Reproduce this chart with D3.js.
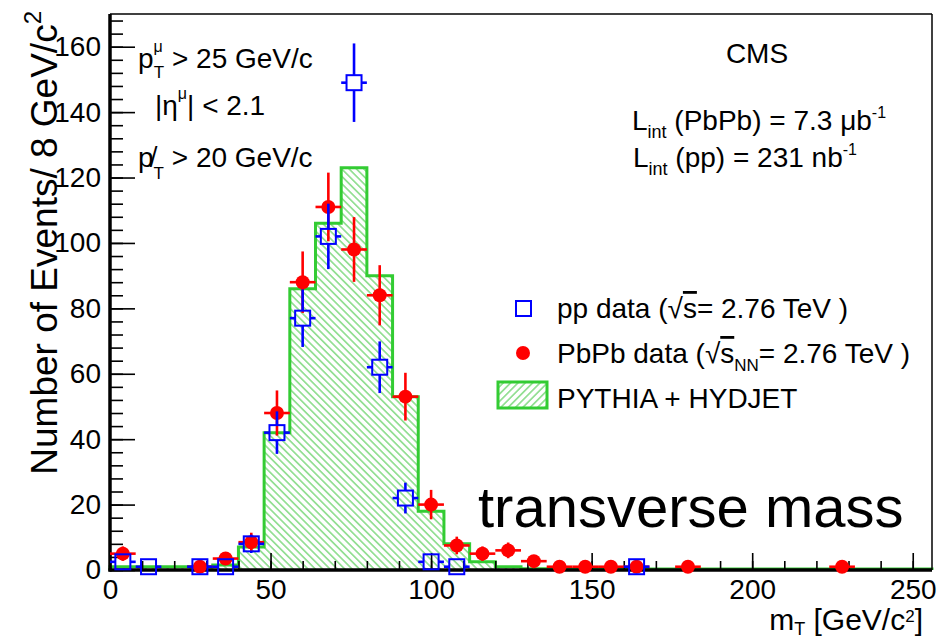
<!DOCTYPE html>
<html><head><meta charset="utf-8">
<script src="https://cdn.jsdelivr.net/npm/d3@7"></script>
<style>
body{margin:0;background:#fff}
svg{display:block}
text{font-family:"Liberation Sans",Arial,Helvetica,sans-serif;fill:#000}
</style>
</head><body>
<svg id="chart" width="937" height="641"></svg>
<script>
// ---------------- data ----------------
const binEdges = [0,8,16,24,32,40,48,56,64,72,80,88,96,104,112,120,128,136,144,152,160,168,176,184,192,200,208,216,224,232,240,248,256];
const mcCounts = [1,1,1,1,1.5,7,42,86,106,123,90,53,18,8,2.5,1,0.4,0.3,0.3,0.3,0.3,0.3,0.3,0.3,0.3,0.3,0.3,0.3,0.3,0.3,0.3,0.3];

const ppX   = [4,12,28,36,44,52,60,68,76,84,92,100,108,164];
const ppY   = [2.5,1,1,1,8,42,77,102,149,62,22,2.5,1,1];
const ppErr = [1.6,1,1,1,2.8,6.5,8.8,10,12,7.9,4.7,1.6,1,1];

const pbX   = [4,28,36,44,52,60,68,76,84,92,100,108,116,124,132,140,148,156,164,180,228];
const pbY   = [5,1,3.5,8.5,48,88,111,98,84,53,20,7.5,5,6,2.7,1,1,1,1,1,1];
const pbErr = [2.2,1,1.9,2.9,6.9,9.4,10.5,9.9,9.2,7.3,4.5,2.7,2.2,2.4,1.6,1,1,1,1,1,1];

const xMajorTicks = [0,50,100,150,200,250];
const xMinorTicks = d3.range(0,256,10);
const yMajorTicks = [0,20,40,60,80,100,120,140,160];
const yMinorTicks = d3.range(0,170,4);
const binHalfWidth = 4;

// ---------------- layout ----------------
const svg = d3.select("#chart");
const L = 110, R = 932, T = 14, B = 570;
const x = d3.scaleLinear().domain([0,256]).range([L,R]);
const y = d3.scaleLinear().domain([0,170]).range([B,T]);

const GREEN = "#33cc33", HATCH = "#55cc55", BLUE = "#0000ff", RED = "#ff0000";
const FS = 28;

// hatch patterns
const defs = svg.append("defs");
function hatch(id, angle){
  const p = defs.append("pattern").attr("id",id).attr("patternUnits","userSpaceOnUse")
    .attr("width",10).attr("height",5.2).attr("patternTransform",`rotate(${angle})`);
  p.append("line").attr("x1",0).attr("x2",10).attr("y1",2.6).attr("y2",2.6)
    .attr("stroke",HATCH).attr("stroke-width",1.1);
}
hatch("hatchBack",45);
hatch("hatchFwd",-45);

// ---------------- histogram ----------------
const bins = mcCounts.map((v,i)=>({lo:binEdges[i],hi:binEdges[i+1],v}));
const stepPts = [];
bins.forEach(b=>{stepPts.push([b.lo,b.v]);stepPts.push([b.hi,b.v]);});
svg.append("path")
  .attr("d", d3.area().x(d=>x(d[0])).y0(y(0)).y1(d=>y(d[1]))(stepPts))
  .attr("fill","url(#hatchBack)");
const outline = [[0,0],...stepPts,[256,0]];
svg.append("path")
  .attr("d", d3.line().x(d=>x(d[0])).y(d=>y(d[1]))(outline))
  .attr("fill","none").attr("stroke",GREEN).attr("stroke-width",3).attr("stroke-linejoin","miter");

// ---------------- axes ----------------
const gx = svg.append("g").attr("transform",`translate(0,${B})`);
gx.call(d3.axisBottom(x).tickValues(xMinorTicks).tickSize(-9).tickFormat(""));
gx.call(g=>g.select(".domain").remove());
const gx2 = svg.append("g").attr("transform",`translate(0,${B})`);
gx2.call(d3.axisBottom(x).tickValues(xMajorTicks).tickSize(-17).tickPadding(9).tickFormat(d3.format("d")));
gx2.select(".domain").remove();

const gy = svg.append("g").attr("transform",`translate(${L},0)`);
gy.call(d3.axisLeft(y).tickValues(yMinorTicks).tickSize(-13).tickFormat(""));
gy.select(".domain").remove();
const gy2 = svg.append("g").attr("transform",`translate(${L},0)`);
gy2.call(d3.axisLeft(y).tickValues(yMajorTicks).tickSize(-25).tickPadding(9).tickFormat(d3.format("d")));
gy2.select(".domain").remove();

svg.selectAll(".tick line").attr("stroke","#000").attr("stroke-width",1.6);
svg.selectAll(".tick text").attr("font-size",FS).attr("font-family",'"Liberation Sans",Arial,sans-serif').attr("fill","#000");

// frame
svg.append("line").attr("x1",L).attr("x2",R).attr("y1",T).attr("y2",T).attr("stroke","#000").attr("stroke-width",1.5);
svg.append("line").attr("x1",R).attr("x2",R).attr("y1",T).attr("y2",B).attr("stroke","#000").attr("stroke-width",1.5);
svg.append("line").attr("x1",L-1.5).attr("x2",R).attr("y1",B).attr("y2",B).attr("stroke","#000").attr("stroke-width",3.5);
svg.append("line").attr("x1",L).attr("x2",L).attr("y1",T).attr("y2",B+1.5).attr("stroke","#000").attr("stroke-width",3.5);

// ---------------- data points ----------------
function errorBars(g, xs, ys, es, color, gap){
  xs.forEach((xv,i)=>{
    const cx = x(xv), cy = y(ys[i]);
    const segs = [];
    const top = y(ys[i]+es[i]), bot = y(Math.max(0,ys[i]-es[i]));
    if (cy-gap > top) segs.push([cx,top,cx,cy-gap]);
    if (bot > cy+gap) segs.push([cx,cy+gap,cx,bot]);
    const lf = x(xv-binHalfWidth), rt = x(xv+binHalfWidth);
    if (cx-gap > lf) segs.push([lf,cy,cx-gap,cy]);
    if (rt > cx+gap) segs.push([cx+gap,cy,rt,cy]);
    segs.forEach(s=>g.append("line").attr("x1",s[0]).attr("y1",s[1]).attr("x2",s[2]).attr("y2",s[3])
      .attr("stroke",color).attr("stroke-width",2.6));
  });
}
const gRed = svg.append("g");
errorBars(gRed, pbX, pbY, pbErr, RED, 0);
gRed.selectAll("circle").data(pbX).join("circle")
  .attr("cx",d=>x(d)).attr("cy",(d,i)=>y(pbY[i])).attr("r",7).attr("fill",RED);

const gBlue = svg.append("g");
errorBars(gBlue, ppX, ppY, ppErr, BLUE, 7.5);
gBlue.selectAll("rect").data(ppX).join("rect")
  .attr("x",d=>x(d)-7.5).attr("y",(d,i)=>y(ppY[i])-7.5).attr("width",15).attr("height",15)
  .attr("fill","none").attr("stroke",BLUE).attr("stroke-width",2);

// ---------------- texts ----------------
function rich(x0,y0,parts,opts={}){
  const size = opts.size||FS;
  const t = svg.append("text").attr("x",x0).attr("y",y0).attr("font-size",size)
    .attr("text-anchor",opts.anchor||"start");
  if (opts.transform) t.attr("transform",opts.transform);
  parts.forEach(p=>{
    const s = t.append("tspan").text(p.t);
    if (p.size) s.attr("font-size",p.size);
    if (p.dy) s.attr("dy",p.dy);
    if (p.dx) s.attr("dx",p.dx);
    if (p.over) s.attr("text-decoration","overline");
  });
  return t;
}

// y-axis title
rich(0,0,[{t:"Number of Events/ 8 GeV/c"},{t:"2",size:24,dy:-16}],
  {anchor:"end",size:37,transform:"translate(57,11) rotate(-90)"});
// x-axis title
rich(923,630,[{t:"m"},{t:"T",size:18,dy:5},{t:" [GeV/c",dy:-5},{t:"2",size:17,dy:-8},{t:"]",dy:8}],{anchor:"end",size:30});

// cuts
rich(138,68,[{t:"p"},{t:"μ",size:16,dy:-16},{t:"T",size:17,dx:-9,dy:26},{t:" > 25 GeV/c",dy:-10}]);
rich(155,115,[{t:"|η"},{t:"μ",size:16,dy:-16},{t:"| < 2.1",dy:16}]);
rich(138,167,[{t:"p\u0338"},{t:"T",size:17,dy:12},{t:" > 20 GeV/c",dy:-12}]);

// CMS & lumi
rich(757,63,[{t:"CMS"}],{anchor:"middle"});
rich(632,130,[{t:"L"},{t:"int",size:18,dy:8},{t:" (PbPb) = 7.3 μb",dy:-8},{t:"-1",size:16,dy:-12}]);
rich(633,167,[{t:"L"},{t:"int",size:18,dy:8},{t:" (pp) = 231 nb",dy:-8},{t:"-1",size:16,dy:-12}]);

// legend
svg.append("rect").attr("x",516).attr("y",301).attr("width",15).attr("height",15)
  .attr("fill","none").attr("stroke",BLUE).attr("stroke-width",2);
rich(557,318,[{t:"pp data (√"},{t:"s",over:true},{t:"= 2.76 TeV )"}]);
svg.append("circle").attr("cx",523).attr("cy",353).attr("r",7).attr("fill",RED);
rich(557,363,[{t:"PbPb data (√"},{t:"s",over:true},{t:"NN",size:17,dy:8},{t:"= 2.76 TeV )",dy:-8}]);
svg.append("rect").attr("x",498).attr("y",382).attr("width",49).attr("height",26)
  .attr("fill","url(#hatchFwd)").attr("stroke",GREEN).attr("stroke-width",3);
rich(557,408,[{t:"PYTHIA + HYDJET"}]);

// big label
rich(478,527,[{t:"transverse mass"}],{size:58});
</script>
</body></html>
